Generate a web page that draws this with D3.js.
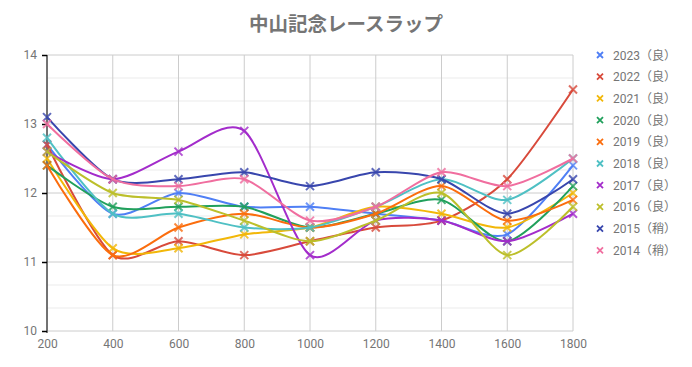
<!DOCTYPE html>
<html>
<head>
<meta charset="utf-8">
<script src="https://cdn.jsdelivr.net/npm/d3@7"></script>
<style>
  body { margin: 0; background: #fff; }
  text { font-family: Roboto, "Noto Sans CJK JP", sans-serif; }
</style>
</head>
<body>
<div id="chart"></div>
<script>
// chart size and margins
var width = 692,
    height = 367;
var margin = {top: 55, right: 119, bottom: 36, left: 47};

// data
var distances = [200, 400, 600, 800, 1000, 1200, 1400, 1600, 1800];
var seriesNames = ["2023（良）", "2022（良）", "2021（良）", "2020（良）", "2019（良）",
                   "2018（良）", "2017（良）", "2016（良）", "2015（稍）", "2014（稍）"];
var laps2023 = [12.7, 11.7, 12.0, 11.8, 11.8, 11.7, 11.6, 11.4, 12.4];
var laps2022 = [12.7, 11.1, 11.3, 11.1, 11.3, 11.5, 11.6, 12.2, 13.5];
var laps2021 = [12.5, 11.2, 11.2, 11.4, 11.5, 11.8, 11.7, 11.5, 12.0];
var laps2020 = [12.4, 11.8, 11.8, 11.8, 11.5, 11.7, 11.9, 11.3, 12.1];
var laps2019 = [12.4, 11.1, 11.5, 11.7, 11.5, 11.7, 12.1, 11.6, 11.9];
var laps2018 = [12.8, 11.7, 11.7, 11.5, 11.5, 11.8, 12.2, 11.9, 12.5];
var laps2017 = [12.6, 12.2, 12.6, 12.9, 11.1, 11.6, 11.6, 11.3, 11.7];
var laps2016 = [12.6, 12.0, 11.9, 11.6, 11.3, 11.6, 12.0, 11.1, 11.8];
var laps2015 = [13.1, 12.2, 12.2, 12.3, 12.1, 12.3, 12.2, 11.7, 12.2];
var laps2014 = [13.0, 12.2, 12.1, 12.2, 11.6, 11.8, 12.3, 12.1, 12.5];
var yTicks = [10, 11, 12, 13, 14];

var allLaps = [laps2023, laps2022, laps2021, laps2020, laps2019,
               laps2018, laps2017, laps2016, laps2015, laps2014];
var colors = ["#4f7ff5", "#d84a3b", "#f2b708", "#21a05c", "#fb6d0d",
              "#4fc0c4", "#a32ccb", "#bcbf2a", "#3846ad", "#f06e9f"];

var svg = d3.select("#chart")
  .append("svg")
    .attr("width", width)
    .attr("height", height);

var x = d3.scaleLinear()
    .domain([200, 1800])
    .range([margin.left, width - margin.right]);

var y = d3.scaleLinear()
    .domain([10, 14])
    .range([height - margin.bottom, margin.top]);

// title
svg.append("text")
  .attr("x", 346)
  .attr("y", 31)
  .attr("text-anchor", "middle")
  .style("font-size", "19.5px")
  .style("font-weight", "bold")
  .style("fill", "#757575")
  .text("中山記念レースラップ");

// minor gridlines (thirds)
var minor = [];
for (var v = 10; v < 14; v++) { minor.push(v + 1 / 3, v + 2 / 3); }
svg.selectAll(".minor")
  .data(minor)
  .enter()
  .append("line")
    .attr("x1", margin.left).attr("x2", width - margin.right)
    .attr("y1", function(d) { return y(d); })
    .attr("y2", function(d) { return y(d); })
    .attr("stroke", "#ebebeb");

// major gridlines
svg.selectAll(".major")
  .data(yTicks)
  .enter()
  .append("line")
    .attr("x1", margin.left).attr("x2", width - margin.right)
    .attr("y1", function(d) { return y(d); })
    .attr("y2", function(d) { return y(d); })
    .attr("stroke", "#cccccc");

svg.selectAll(".vgrid")
  .data(distances)
  .enter()
  .append("line")
    .attr("x1", function(d) { return x(d); })
    .attr("x2", function(d) { return x(d); })
    .attr("y1", margin.top).attr("y2", height - margin.bottom)
    .attr("stroke", "#cccccc");

// x axis labels
var xAxis = svg.append("g")
  .attr("transform", "translate(0," + (height - margin.bottom) + ")")
  .call(d3.axisBottom(x).tickValues(distances).tickSize(0).tickPadding(8).tickFormat(d3.format("d")));
xAxis.select(".domain").remove();
xAxis.selectAll("text").style("font-size", "12px").style("fill", "#757575");

// y axis
var yAxis = svg.append("g")
  .attr("transform", "translate(" + margin.left + ",0)")
  .call(d3.axisLeft(y).tickValues(yTicks).tickSize(5).tickPadding(5).tickFormat(d3.format("d")));
yAxis.select(".domain").attr("stroke", "#000").attr("d", "M0," + (margin.top) + "V" + (height - margin.bottom + 2));
yAxis.selectAll(".tick line").attr("stroke", "#000").attr("stroke-width", 1.5);
yAxis.selectAll("text").style("font-size", "12px").style("fill", "#757575");

// lines
var line = d3.line()
  .x(function(d, i) { return x(distances[i]); })
  .y(function(d) { return y(d); })
  .curve(d3.curveCardinal.tension(0.2));

var cross = function(cx, cy, r) {
  return "M" + (cx - r) + "," + (cy - r) + "L" + (cx + r) + "," + (cy + r) +
         "M" + (cx - r) + "," + (cy + r) + "L" + (cx + r) + "," + (cy - r);
};

var groups = svg.selectAll(".series")
  .data(allLaps)
  .enter()
  .append("g");

groups.append("path")
  .attr("d", function(d) { return line(d); })
  .attr("fill", "none")
  .attr("stroke", function(d, i) { return colors[i]; })
  .attr("stroke-width", 2);

groups.each(function(d, i) {
  d3.select(this).selectAll("path.pt")
    .data(d)
    .enter()
    .append("path")
      .attr("class", "pt")
      .attr("d", function(v, j) { return cross(x(distances[j]), y(v), 4); })
      .attr("stroke", colors[i])
      .attr("stroke-width", 2)
      .style("opacity", 0.8);
});

// legend
var legend = svg.selectAll(".legend")
  .data(seriesNames)
  .enter()
  .append("g")
    .attr("transform", function(d, i) { return "translate(600," + (55 + i * 21.7) + ")"; });

legend.append("path")
  .attr("d", cross(0, 0, 3))
  .attr("stroke", function(d, i) { return colors[i]; })
  .attr("stroke-width", 1.8);

legend.append("text")
  .attr("x", 13)
  .attr("y", 4.5)
  .style("font-size", "12px")
  .style("fill", "#757575")
  .text(function(d) { return d; });
</script>
</body>
</html>
